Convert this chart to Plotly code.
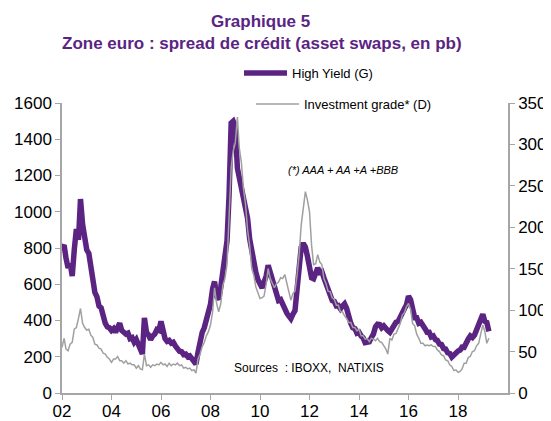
import pandas as pd
import plotly.graph_objects as go

# Monthly readings (start of month), Jan 2002 -> Apr 2019
high_yield = [
    800, 815, 745, 690, 715, 645, 790, 905, 845, 1070, 930, 860,      # 2002
    790, 770, 690, 620, 555, 530, 480, 470, 405, 385, 365, 360,       # 2003
    345, 355, 335, 370, 385, 345, 335, 325, 330, 300, 305, 280,       # 2004
    295, 265, 240, 215, 415, 335, 320, 295, 315, 325, 350, 345,       # 2005
    395, 335, 300, 285, 290, 275, 280, 260, 245, 230, 228, 212,       # 2006
    215, 200, 205, 188, 182, 160, 225, 305, 335, 360, 405, 425,       # 2007
    490, 575, 615, 535, 515, 585, 665, 715, 840, 1090, 1490, 1500,    # 2008
    1470, 1240, 1190, 1120, 1075, 1000, 965, 850, 790, 695, 665, 625, # 2009
    605, 580, 610, 645, 705, 670, 630, 585, 545, 510, 515, 485,       # 2010
    465, 440, 425, 410, 435, 455, 570, 735, 805, 825, 805, 755,       # 2011
    705, 635, 630, 655, 690, 665, 670, 635, 605, 580, 555, 510,       # 2012
    505, 480, 482, 465, 480, 492, 468, 415, 385, 360, 355, 330,       # 2013
    335, 315, 305, 278, 280, 282, 305, 325, 365, 380, 378, 360,       # 2014
    370, 350, 345, 335, 355, 365, 390, 395, 425, 435, 465, 485,       # 2015
    535, 515, 445, 415, 415, 385, 390, 365, 355, 335, 335, 310,       # 2016
    315, 295, 290, 270, 268, 245, 243, 222, 218, 198, 212, 218,       # 2017
    232, 237, 253, 252, 280, 298, 315, 306, 320, 350, 370, 395,       # 2018
    435, 395, 390, 340,                                               # 2019
]

investment_grade = [
    55, 66, 53, 51, 59, 61, 77, 79, 90, 102, 84, 79,                  # 2002
    76, 77, 70, 67, 59, 58, 54, 53, 48, 47, 43, 41,                   # 2003
    37, 41, 41, 44, 39, 39, 36, 39, 35, 36, 34, 34,                   # 2004
    30, 33, 29, 28, 47, 33, 34, 31, 34, 33, 35, 34,                   # 2005
    37, 34, 35, 32, 36, 33, 35, 34, 36, 33, 34, 30,                   # 2006
    31, 29, 30, 27, 28, 24, 41, 47, 56, 61, 69, 74,                   # 2007
    82, 98, 127, 108, 98, 108, 130, 138, 155, 222, 272, 292,          # 2008
    302, 333, 296, 278, 247, 228, 197, 178, 150, 142, 128, 121,       # 2009
    114, 115, 117, 131, 150, 138, 132, 127, 132, 134, 139, 138,       # 2010
    143, 133, 121, 112, 120, 123, 142, 167, 203, 222, 243, 233,       # 2011
    219, 178, 155, 156, 167, 158, 155, 138, 132, 123, 122, 115,       # 2012
    113, 106, 106, 98, 98, 93, 90, 85, 85, 79, 79, 75,                # 2013
    77, 69, 69, 65, 66, 62, 66, 65, 63, 66, 62, 61,                   # 2014
    57, 53, 47, 66, 64, 71, 72, 79, 84, 94, 97, 104,                  # 2015
    108, 101, 84, 81, 71, 66, 60, 60, 57, 58, 57, 58,                 # 2016
    56, 56, 52, 50, 46, 45, 40, 39, 34, 32, 27, 28,                   # 2017
    25, 26, 29, 36, 36, 43, 44, 50, 51, 57, 60, 71,                   # 2018
    82, 74, 60, 66,                                                   # 2019
]

dates = pd.date_range("2002-01-01", periods=len(high_yield), freq="MS")

tick_years = ["2002-01-01", "2004-01-01", "2006-01-01", "2008-01-01", "2010-01-01",
              "2012-01-01", "2014-01-01", "2016-01-01", "2018-01-01"]
tick_labels = ["02", "04", "06", "08", "10", "12", "14", "16", "18"]

PURPLE = "#5B2483"
GREY = "#A0A0A0"
AXIS = "#A6A6A6"
FONT = "Liberation Sans, Arial, sans-serif"

# The page body has an 8px margin: the figure starts at screen (8, 8).
OFF = 8
FIG_W, FIG_H = 551 - OFF, 421 - OFF
# plot area in screen pixels: x 62..508, y 103..393
L, R, T, B = 62, 508, 103, 393
W, H = R - L, B - T


def px(x):
    return (x - L) / W


def py(y):
    return (B - y) / H


fig = go.Figure()
fig.add_trace(go.Scatter(
    x=dates, y=high_yield, mode="lines", name="High Yield (G)",
    line=dict(color=PURPLE, width=5.5), legend="legend", yaxis="y"))
fig.add_trace(go.Scatter(
    x=dates, y=investment_grade, mode="lines", name="Investment grade* (D)",
    line=dict(color=GREY, width=1.5), legend="legend2", yaxis="y2"))

axis_style = dict(showline=True, linecolor=AXIS, linewidth=1.5, ticks="outside",
                  tickcolor=AXIS, ticklen=5, showgrid=False, zeroline=False,
                  tickfont=dict(size=17))

fig.update_layout(
    width=FIG_W, height=FIG_H,
    margin=dict(l=L - OFF, r=551 - R, t=T - OFF, b=421 - B, autoexpand=False),
    paper_bgcolor="white", plot_bgcolor="white",
    font=dict(family=FONT, color="#000000", size=16),
    xaxis=dict(range=["2002-01-01", "2020-01-08"], tickvals=tick_years,
               ticktext=tick_labels, ticklabelstandoff=-3, **axis_style),
    yaxis=dict(range=[0, 1600], tickvals=[0, 200, 400, 600, 800, 1000, 1200, 1400, 1600],
               **axis_style),
    yaxis2=dict(range=[0, 350], tickvals=[0, 50, 100, 150, 200, 250, 300, 350],
                overlaying="y", side="right", **axis_style),
    legend=dict(x=px(239), y=py(73), xanchor="left", yanchor="middle",
                font=dict(size=13), bgcolor="rgba(0,0,0,0)", itemwidth=43),
    legend2=dict(x=px(251), y=py(104), xanchor="left", yanchor="middle",
                 font=dict(size=13), bgcolor="rgba(0,0,0,0)", itemwidth=43),
    showlegend=True,
)

fig.add_annotation(x=px(260), y=py(21), xref="paper", yref="paper", yanchor="middle",
                   xanchor="center", showarrow=False,
                   text="<b>Graphique 5</b>", font=dict(size=17, color=PURPLE))
fig.add_annotation(x=px(262), y=py(43), xref="paper", yref="paper", xanchor="center",
                   yanchor="middle", showarrow=False,
                   text="<b>Zone euro : spread de crédit (asset swaps, en pb)</b>",
                   font=dict(size=17, color=PURPLE))
fig.add_annotation(xref="paper", yref="paper", x=px(400), y=py(162),
                   showarrow=False, text="<i>(*) AAA + AA +A +BBB</i>",
                   font=dict(size=11, color="#000000"))
fig.add_annotation(xref="paper", yref="paper", x=px(232), y=py(377),
                   xanchor="left", showarrow=False, text="Sources  : IBOXX,  NATIXIS",
                   font=dict(size=12, color="#000000"))

fig.write_html("out.html")
